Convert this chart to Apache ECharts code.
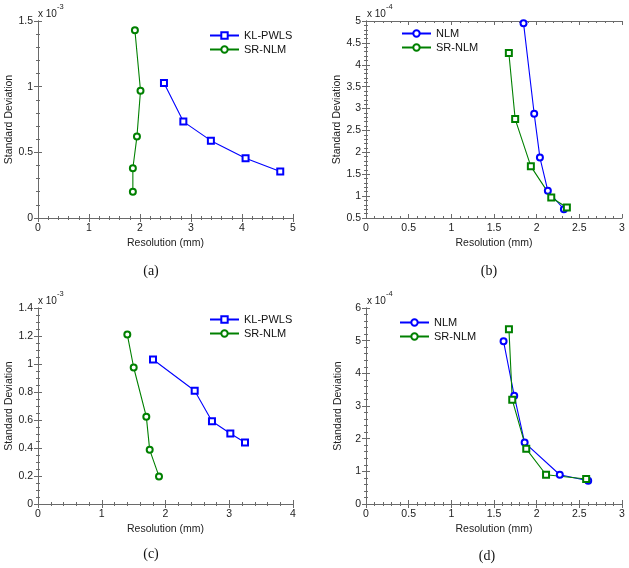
<!DOCTYPE html>
<html>
<head>
<meta charset="utf-8">
<script src="https://cdn.jsdelivr.net/npm/echarts@6/dist/echarts.min.js"></script>
<style>
html,body{margin:0;padding:0;background:#fff;}
#chart{width:629px;height:568px;}
</style>
</head>
<body>
<div id="chart"></div>
<script>
// Panel (a): x 10^-3
const aKLx = [2.47, 2.85, 3.39, 4.07, 4.75];
const aKLy = [1.027, 0.734, 0.589, 0.455, 0.354];
const aSRx = [1.90, 2.01, 1.94, 1.86, 1.86];
const aSRy = [1.43, 0.969, 0.62, 0.379, 0.20];
// Panel (b): x 10^-4
const bNLMx = [1.846, 1.971, 2.038, 2.131, 2.319];
const bNLMy = [4.95, 2.88, 1.88, 1.12, 0.70];
const bSRx = [1.674, 1.748, 1.932, 2.171, 2.354];
const bSRy = [4.27, 2.76, 1.68, 0.97, 0.74];
// Panel (c): x 10^-3
const cKLx = [1.804, 2.458, 2.729, 3.017, 3.247];
const cKLy = [1.032, 0.809, 0.591, 0.503, 0.439];
const cSRx = [1.401, 1.501, 1.699, 1.752, 1.898];
const cSRy = [1.210, 0.975, 0.624, 0.387, 0.197];
// Panel (d): x 10^-4
const dNLMx = [1.612, 1.737, 1.859, 2.271, 2.604];
const dNLMy = [4.98, 3.315, 1.88, 0.895, 0.712];
const dSRx = [1.675, 1.714, 1.878, 2.110, 2.580];
const dSRy = [5.35, 3.19, 1.69, 0.895, 0.763];

const xTitle = 'Resolution (mm)';
const yTitle = 'Standard Deviation';
const captions = ['(a)', '(b)', '(c)', '(d)'];
const exponents = ['-3', '-4', '-3', '-4'];

const zip = (xs, ys) => xs.map((x, i) => [x, ys[i]]);

const FONT = 'Liberation Sans, Arial, sans-serif';
const AX = '#6a6a6a';
const BLUE = '#0000ff';
const GREEN = '#008000';

const grids = [
  {left: 38, top: 21, width: 255, height: 197},
  {left: 366, top: 21, width: 256, height: 197},
  {left: 38, top: 308, width: 255, height: 196},
  {left: 366, top: 308, width: 256, height: 196}
];
const xRanges = [[0, 5, 1], [0, 3, 0.5], [0, 4, 1], [0, 3, 0.5]];
const yRanges = [[0, 1.5, 0.5], [0.5, 5, 0.5], [0, 1.4, 0.2], [0, 6, 1]];
const xMinor = [5, 5, 5, 5];
const yMinor = [5, 5, 4, 5];

const xAxes = [], yAxes = [];
grids.forEach((g, i) => {
  const [xmin, xmax, xint] = xRanges[i];
  const [ymin, ymax, yint] = yRanges[i];
  const common = {
    axisLine: {show: true, lineStyle: {color: AX, width: 1}},
    axisTick: {show: true, inside: true, length: 4, lineStyle: {color: AX}},
    minorTick: {show: true, length: 2, lineStyle: {color: AX}},
    splitLine: {show: false}
  };
  xAxes.push(Object.assign({}, common, {
    type: 'value', gridIndex: i, position: 'bottom', min: xmin, max: xmax, interval: xint,
    minorTick: Object.assign({}, common.minorTick, {splitNumber: xMinor[i]}),
    name: xTitle, nameLocation: 'middle', nameGap: 20,
    nameTextStyle: {fontFamily: FONT, fontSize: 10.5, color: '#222'},
    axisLabel: {fontFamily: FONT, fontSize: 10.5, color: '#222', margin: 5}
  }));
  xAxes.push(Object.assign({}, common, {
    type: 'value', gridIndex: i, position: 'top', min: xmin, max: xmax, interval: xint,
    minorTick: Object.assign({}, common.minorTick, {splitNumber: xMinor[i]}),
    axisLabel: {show: false}
  }));
  yAxes.push(Object.assign({}, common, {
    type: 'value', gridIndex: i, position: 'left', min: ymin, max: ymax, interval: yint,
    minorTick: Object.assign({}, common.minorTick, {splitNumber: yMinor[i]}),
    name: yTitle, nameLocation: 'middle', nameGap: 22,
    nameTextStyle: {fontFamily: FONT, fontSize: 10.5, color: '#222'},
    axisLabel: {fontFamily: FONT, fontSize: 10.5, color: '#222', margin: 5}
  }));
  yAxes.push(Object.assign({}, common, {
    type: 'value', gridIndex: i, position: 'right', min: ymin, max: ymax, interval: yint,
    minorTick: Object.assign({}, common.minorTick, {splitNumber: yMinor[i]}),
    axisLabel: {show: false}
  }));
});

function lineSeries(name, data, panel, color, symbol) {
  return {
    name: name, type: 'line', data: data,
    xAxisIndex: panel * 2, yAxisIndex: panel * 2,
    symbol: symbol, symbolSize: 6, showSymbol: true,
    lineStyle: {color: color, width: 1.1},
    itemStyle: {color: color, borderColor: color, borderWidth: 1},
    animation: false
  };
}

const series = [
  lineSeries('KL-PWLS', zip(aKLx, aKLy), 0, BLUE, 'emptyRect'),
  lineSeries('SR-NLM', zip(aSRx, aSRy), 0, GREEN, 'emptyCircle'),
  lineSeries('NLM', zip(bNLMx, bNLMy), 1, BLUE, 'emptyCircle'),
  lineSeries('SR-NLM', zip(bSRx, bSRy), 1, GREEN, 'emptyRect'),
  lineSeries('KL-PWLS', zip(cKLx, cKLy), 2, BLUE, 'emptyRect'),
  lineSeries('SR-NLM', zip(cSRx, cSRy), 2, GREEN, 'emptyCircle'),
  lineSeries('NLM', zip(dNLMx, dNLMy), 3, BLUE, 'emptyCircle'),
  lineSeries('SR-NLM', zip(dSRx, dSRy), 3, GREEN, 'emptyRect')
];

function legendFor(names, left, top) {
  return {
    orient: 'vertical', left: left, top: top,
    itemWidth: 29, itemHeight: 8, itemGap: 3,
    textStyle: {fontFamily: FONT, fontSize: 11, color: '#111'},
    data: names,
    selectedMode: false
  };
}

const legends = [
  legendFor(['KL-PWLS', 'SR-NLM'], 204, 25),
  legendFor(['NLM', 'SR-NLM'], 396, 23),
  legendFor(['KL-PWLS', 'SR-NLM'], 204, 309),
  legendFor(['NLM', 'SR-NLM'], 394, 312)
];

const expPos = [[38, 3], [367, 3], [38, 290], [367, 290]];
const capPos = [[151, 271], [489, 271], [151, 554], [487, 556]];
const graphics = [];
expPos.forEach((p, i) => {
  graphics.push({
    type: 'text', left: p[0], top: p[1],
    style: {
      text: '{b|x 10}{s|' + exponents[i] + '}',
      rich: {
        b: {fontFamily: FONT, fontSize: 10, fill: '#222', padding: [6, 0, 0, 0]},
        s: {fontFamily: FONT, fontSize: 7.5, fill: '#222', verticalAlign: 'top', padding: [0, 0, 6, 0]}
      }
    }
  });
});
capPos.forEach((p, i) => {
  graphics.push({
    type: 'text', x: p[0], y: p[1],
    style: {
      text: captions[i], fontFamily: 'Liberation Serif, Times New Roman, serif',
      fontSize: 14, fill: '#111', align: 'center', verticalAlign: 'middle'
    }
  });
});

const chart = echarts.init(document.getElementById('chart'), null, {renderer: 'canvas'});
chart.setOption({
  backgroundColor: '#fff',
  animation: false,
  grid: grids,
  xAxis: xAxes,
  yAxis: yAxes,
  legend: legends,
  series: series,
  graphic: graphics
});
</script>
</body>
</html>
